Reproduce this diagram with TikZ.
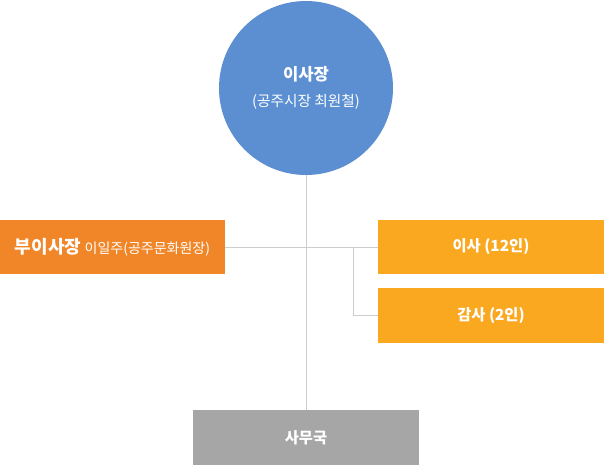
\documentclass[tikz,border=0pt]{standalone}
\usepackage{fontspec}
\setmainfont{Noto Sans CJK KR}
\usetikzlibrary{positioning}
\definecolor{ChairBlue}{RGB}{91,143,209}
\definecolor{ViceOrange}{RGB}{241,134,40}
\definecolor{BoardAmber}{RGB}{249,168,32}
\definecolor{OfficeGray}{RGB}{166,166,166}
\definecolor{LineGray}{RGB}{205,205,205}
\tikzset{
  orgbox/.style={rectangle, minimum width=169pt, minimum height=40.8pt, inner sep=0pt,
    text=white, align=center, font=\fontsize{11.5}{13}\selectfont\bfseries},
  chair/.style={circle, fill=ChairBlue, minimum size=130.5pt, inner sep=0pt,
    text=white, align=center},
  vice/.style={orgbox, fill=ViceOrange},
  board/.style={orgbox, fill=BoardAmber},
  office/.style={orgbox, fill=OfficeGray},
  orgline/.style={draw=LineGray, line width=0.75pt},
}
\begin{document}
\begin{tikzpicture}[x=0.75pt, y=-0.75pt]
  \useasboundingbox (0,0) rectangle (604,465);
  % top of the chart
  \node[chair] (chair) at (306,88) {{\fontsize{12.5}{15}\selectfont\bfseries 이사장}\\[7pt]
    {\fontsize{11}{13}\selectfont (공주시장 최원철)}};
  % boxes
  \node[vice] (vice) at (112.5,247) {{\fontsize{13.5}{15}\selectfont\bfseries 부이사장}
    {\fontsize{10.5}{12}\selectfont\mdseries 이일주(공주문화원장)}};
  \node[board] (board) at (491,247) {이사 (12인)};
  \node[board] (audit) at (491,315.5) {감사 (2인)};
  \node[office] (office) at (306,437.5) {사무국};
  % connectors
  \coordinate (split) at (353,247);
  \draw[orgline] (chair.south) -- (office.north);
  \draw[orgline] (vice.east) -- (board.west);
  \draw[orgline] (split) |- (audit.west);
\end{tikzpicture}
\end{document}
